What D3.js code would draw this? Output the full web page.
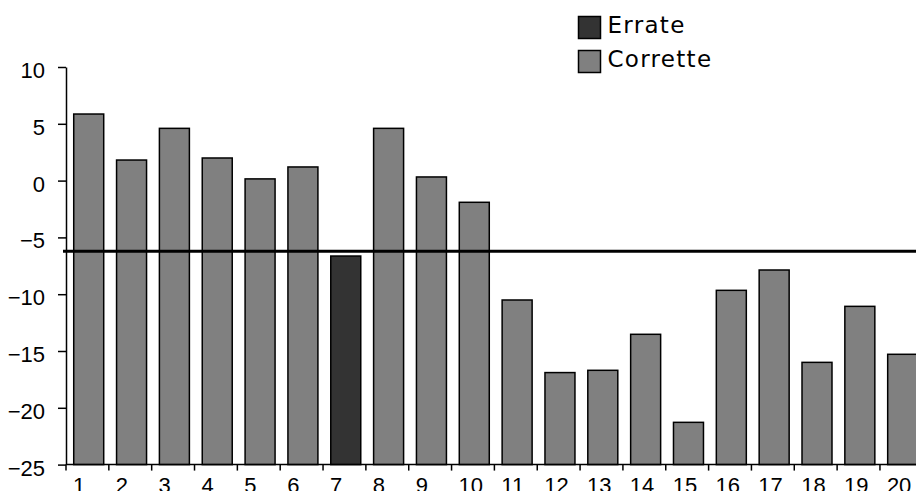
<!DOCTYPE html>
<html>
<head>
<meta charset="utf-8">
<script src="https://cdn.jsdelivr.net/npm/d3@7"></script>
<style>
  html, body { margin: 0; padding: 0; background: #fff; overflow: hidden; }
  svg { display: block; }
</style>
</head>
<body>
<svg id="chart" width="916" height="491"></svg>
<script>
const categories = ["1","2","3","4","5","6","7","8","9","10","11","12","13","14","15","16","17","18","19","20"];
const values = [5.86, 1.81, 4.6, 1.99, 0.15, 1.2, -6.64, 4.6, 0.32, -1.91, -10.51, -16.9, -16.7, -13.53, -21.28, -9.66, -7.87, -16.0, -11.07, -15.29];
const seriesOf = ["Corrette","Corrette","Corrette","Corrette","Corrette","Corrette","Errate","Corrette","Corrette","Corrette","Corrette","Corrette","Corrette","Corrette","Corrette","Corrette","Corrette","Corrette","Corrette","Corrette"];
const legendNames = ["Errate", "Corrette"];
const legendColors = ["#333333", "#808080"];
const yTicks = [10, 5, 0, -5, -10, -15, -20, -25];
const refValue = -6.22;

const svg = d3.select("#chart");
const mLeft = 66, mTop = 67, mBottom = 464.6, step = 42.84;
const mRight = mLeft + step * categories.length;

const y = d3.scaleLinear().domain([-25, 10]).range([mBottom, mTop]);
const x = d3.scaleBand().domain(categories).range([mLeft, mRight]).paddingInner(0.3).paddingOuter(0.15);
const color = d3.scaleOrdinal().domain(legendNames).range(legendColors);

// bars
svg.append("g").selectAll("rect").data(values).join("rect")
  .attr("x", (d, i) => x(categories[i]) + 1.3)
  .attr("y", d => y(d))
  .attr("width", x.bandwidth())
  .attr("height", d => y(-25) - y(d))
  .attr("fill", (d, i) => color(seriesOf[i]))
  .attr("stroke", "#000")
  .attr("stroke-width", 1.5);

// y axis
const yAxis = svg.append("g").attr("transform", `translate(${mLeft},0)`)
  .call(d3.axisLeft(y).tickValues(yTicks).tickSize(8).tickSizeOuter(0).tickPadding(13));
yAxis.select(".domain").attr("stroke", "#000").attr("stroke-width", 1.5);
yAxis.selectAll(".tick line").attr("stroke", "#000").attr("stroke-width", 1.5);
yAxis.selectAll("text")
  .attr("font-family", "Liberation Sans, Arial, sans-serif")
  .attr("font-size", 22).attr("fill", "#000")
  .attr("dy", "0.48em");

// x axis
const xAxisG = svg.append("g").attr("transform", `translate(0,${mBottom})`);
xAxisG.append("line").attr("x1", mLeft).attr("x2", mRight).attr("y1", 0).attr("y2", 0)
  .attr("stroke", "#000").attr("stroke-width", 1.5);
const boundaries = categories.map(c => x(c) - x.step() * 0.15).concat([mRight]);
xAxisG.selectAll("line.tk").data(boundaries).join("line").attr("class", "tk")
  .attr("x1", d => d).attr("x2", d => d).attr("y1", 0).attr("y2", 6)
  .attr("stroke", "#000").attr("stroke-width", 1.5);
xAxisG.selectAll("text").data(categories).join("text")
  .attr("x", d => x(d) + 0.5)
  .attr("y", 28.5)
  .attr("text-anchor", "start")
  .attr("font-family", "Liberation Sans, Arial, sans-serif")
  .attr("font-size", 22)
  .text(d => d);

// reference line
svg.append("line")
  .attr("x1", 63).attr("x2", 916)
  .attr("y1", y(refValue)).attr("y2", y(refValue))
  .attr("stroke", "#000").attr("stroke-width", 3);

// legend
const lg = svg.append("g").attr("transform", "translate(578.5,16.5)");
const items = lg.selectAll("g").data(legendNames).join("g")
  .attr("transform", (d, i) => `translate(0,${i * 34})`);
items.append("rect").attr("x", 0).attr("y", 0).attr("width", 22).attr("height", 22)
  .attr("fill", d => color(d)).attr("stroke", "#000").attr("stroke-width", 1.5);
items.append("text").attr("x", 29).attr("y", 16)
  .attr("font-family", "DejaVu Sans, sans-serif").attr("font-size", 23)
  .attr("letter-spacing", 1.3)
  .text(d => d);
</script>
</body>
</html>
